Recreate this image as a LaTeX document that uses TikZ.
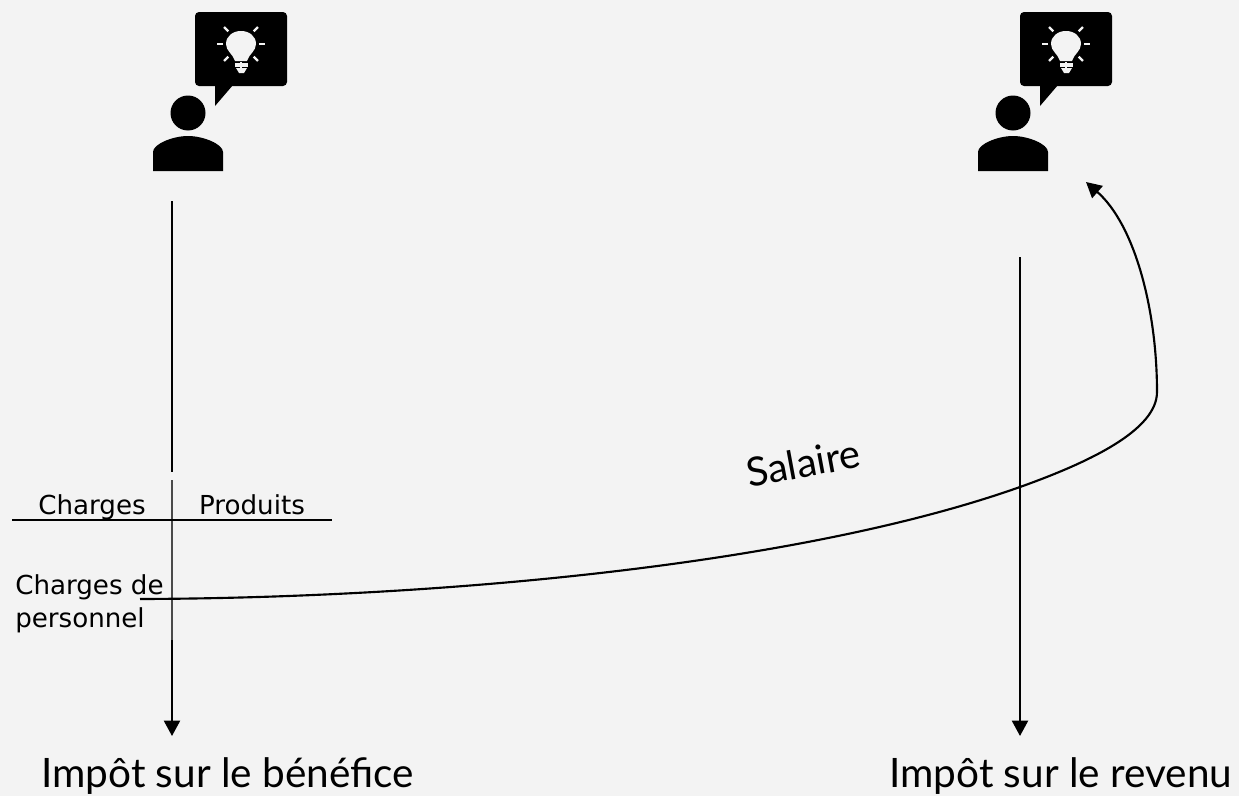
\documentclass[tikz,border=0pt]{standalone}
\usepackage{fontspec}
\setmainfont{Lato}
\newfontfamily\tablefont{DejaVu Sans}
\usepackage{xcolor}
\usetikzlibrary{arrows.meta}
\definecolor{pagegray}{HTML}{F3F3F3}
\definecolor{rulegray}{HTML}{4A4A4A}
\tikzset{
    account-text/.style = {font=\tablefont\fontsize{19.6}{24.75}\selectfont, inner sep=0pt, align=left},
    tax-title/.style = {font=\fontsize{30.4}{34}\selectfont, inner sep=0pt, anchor=base west},
    flow-line/.style = {draw=black, line width=1.6pt},
    flow-arrow/.style = {flow-line, -{Triangle[length=11.5pt,width=12pt]}},
    bulb-ray/.style = {draw=pagegray, line width=1.8pt},
    pics/thinker/.style = {code={
        \fill (0,0) circle (17.5);
        \fill (-35,58) -- (-35,39) .. controls (-35,31) and (-15,23) .. (0,23) .. controls (15,23) and (35,31) .. (35,39) -- (35,58) -- cycle;
        \fill[rounded corners=3pt] (7,-101) rectangle (99,-27);
        \fill (27,-28) -- (27,-7) -- (45,-28) -- cycle;
        % bulb
        \fill[pagegray] (47,-52) .. controls (45,-59) and (38,-62) .. (38,-69) .. controls (38,-77) and (45,-82) .. (53,-82) .. controls (61,-82) and (68,-77) .. (68,-69) .. controls (68,-62) and (61,-59) .. (59,-52) -- cycle;
        \fill[pagegray] (47,-50) rectangle (60,-46);
        \fill[pagegray] (48,-45) -- (59,-45) -- (56,-40) -- (51,-40) -- cycle;
        \foreach \a in {0,45,90,135,180,225,315} {
            \draw[bulb-ray] ([shift={(\a:18)}]53,-69) -- ([shift={(\a:24)}]53,-69);
        }
    }},
}

\begin{document}
\begin{tikzpicture}[x=0.75pt, y=-0.75pt]
\useasboundingbox[fill=pagegray] (0,0) rectangle (1239,796);

\pic at (188,113) {thinker};
\pic at (1013,113) {thinker};

\coordinate (left-top) at (172,201);
\coordinate (left-gap) at (172,472);
\coordinate (table-top) at (172,480);
\coordinate (table-bottom) at (172,640);
\coordinate (left-end) at (172,736);
\coordinate (right-top) at (1020,257);
\coordinate (right-end) at (1020,736);
\coordinate (table-left) at (12,520);
\coordinate (table-right) at (332,520);
\coordinate (salary-start) at (140,599);
\coordinate (salary-cross) at (1020,487);
\coordinate (salary-corner) at (1157,392);
\coordinate (salary-end) at (1086,182);

\draw[flow-line] (left-top) -- (left-gap);
\draw[rulegray, line width=1.2pt] (table-top) -- (table-bottom);
\draw[flow-arrow] (table-bottom) -- (left-end);
\draw[black, line width=1pt] (table-left) -- (table-right);
\draw[flow-arrow] (right-top) -- (right-end);
\draw[flow-arrow] (salary-start) .. controls (440,598) and (800,565) .. (salary-cross) .. controls (1090,462) and (1157,430) .. (salary-corner) .. controls (1157,310) and (1135,225) .. (salary-end);

\node[account-text, anchor=base] (charges) at (92,514) {Charges};
\node[account-text, anchor=base] (produits) at (252,514) {Produits};
\node[account-text, anchor=west] (personnel) at (15,604) {Charges de\\personnel};
\node[font=\fontsize{30}{34}\selectfont, inner sep=0pt, rotate=10.5] (salaire) at (803,463) {Salaire};
\node[tax-title] (benefice) at (41,787) {Impôt sur le bénéfice};
\node[tax-title] (revenu) at (889,787) {Impôt sur le revenu};
\end{tikzpicture}
\end{document}
